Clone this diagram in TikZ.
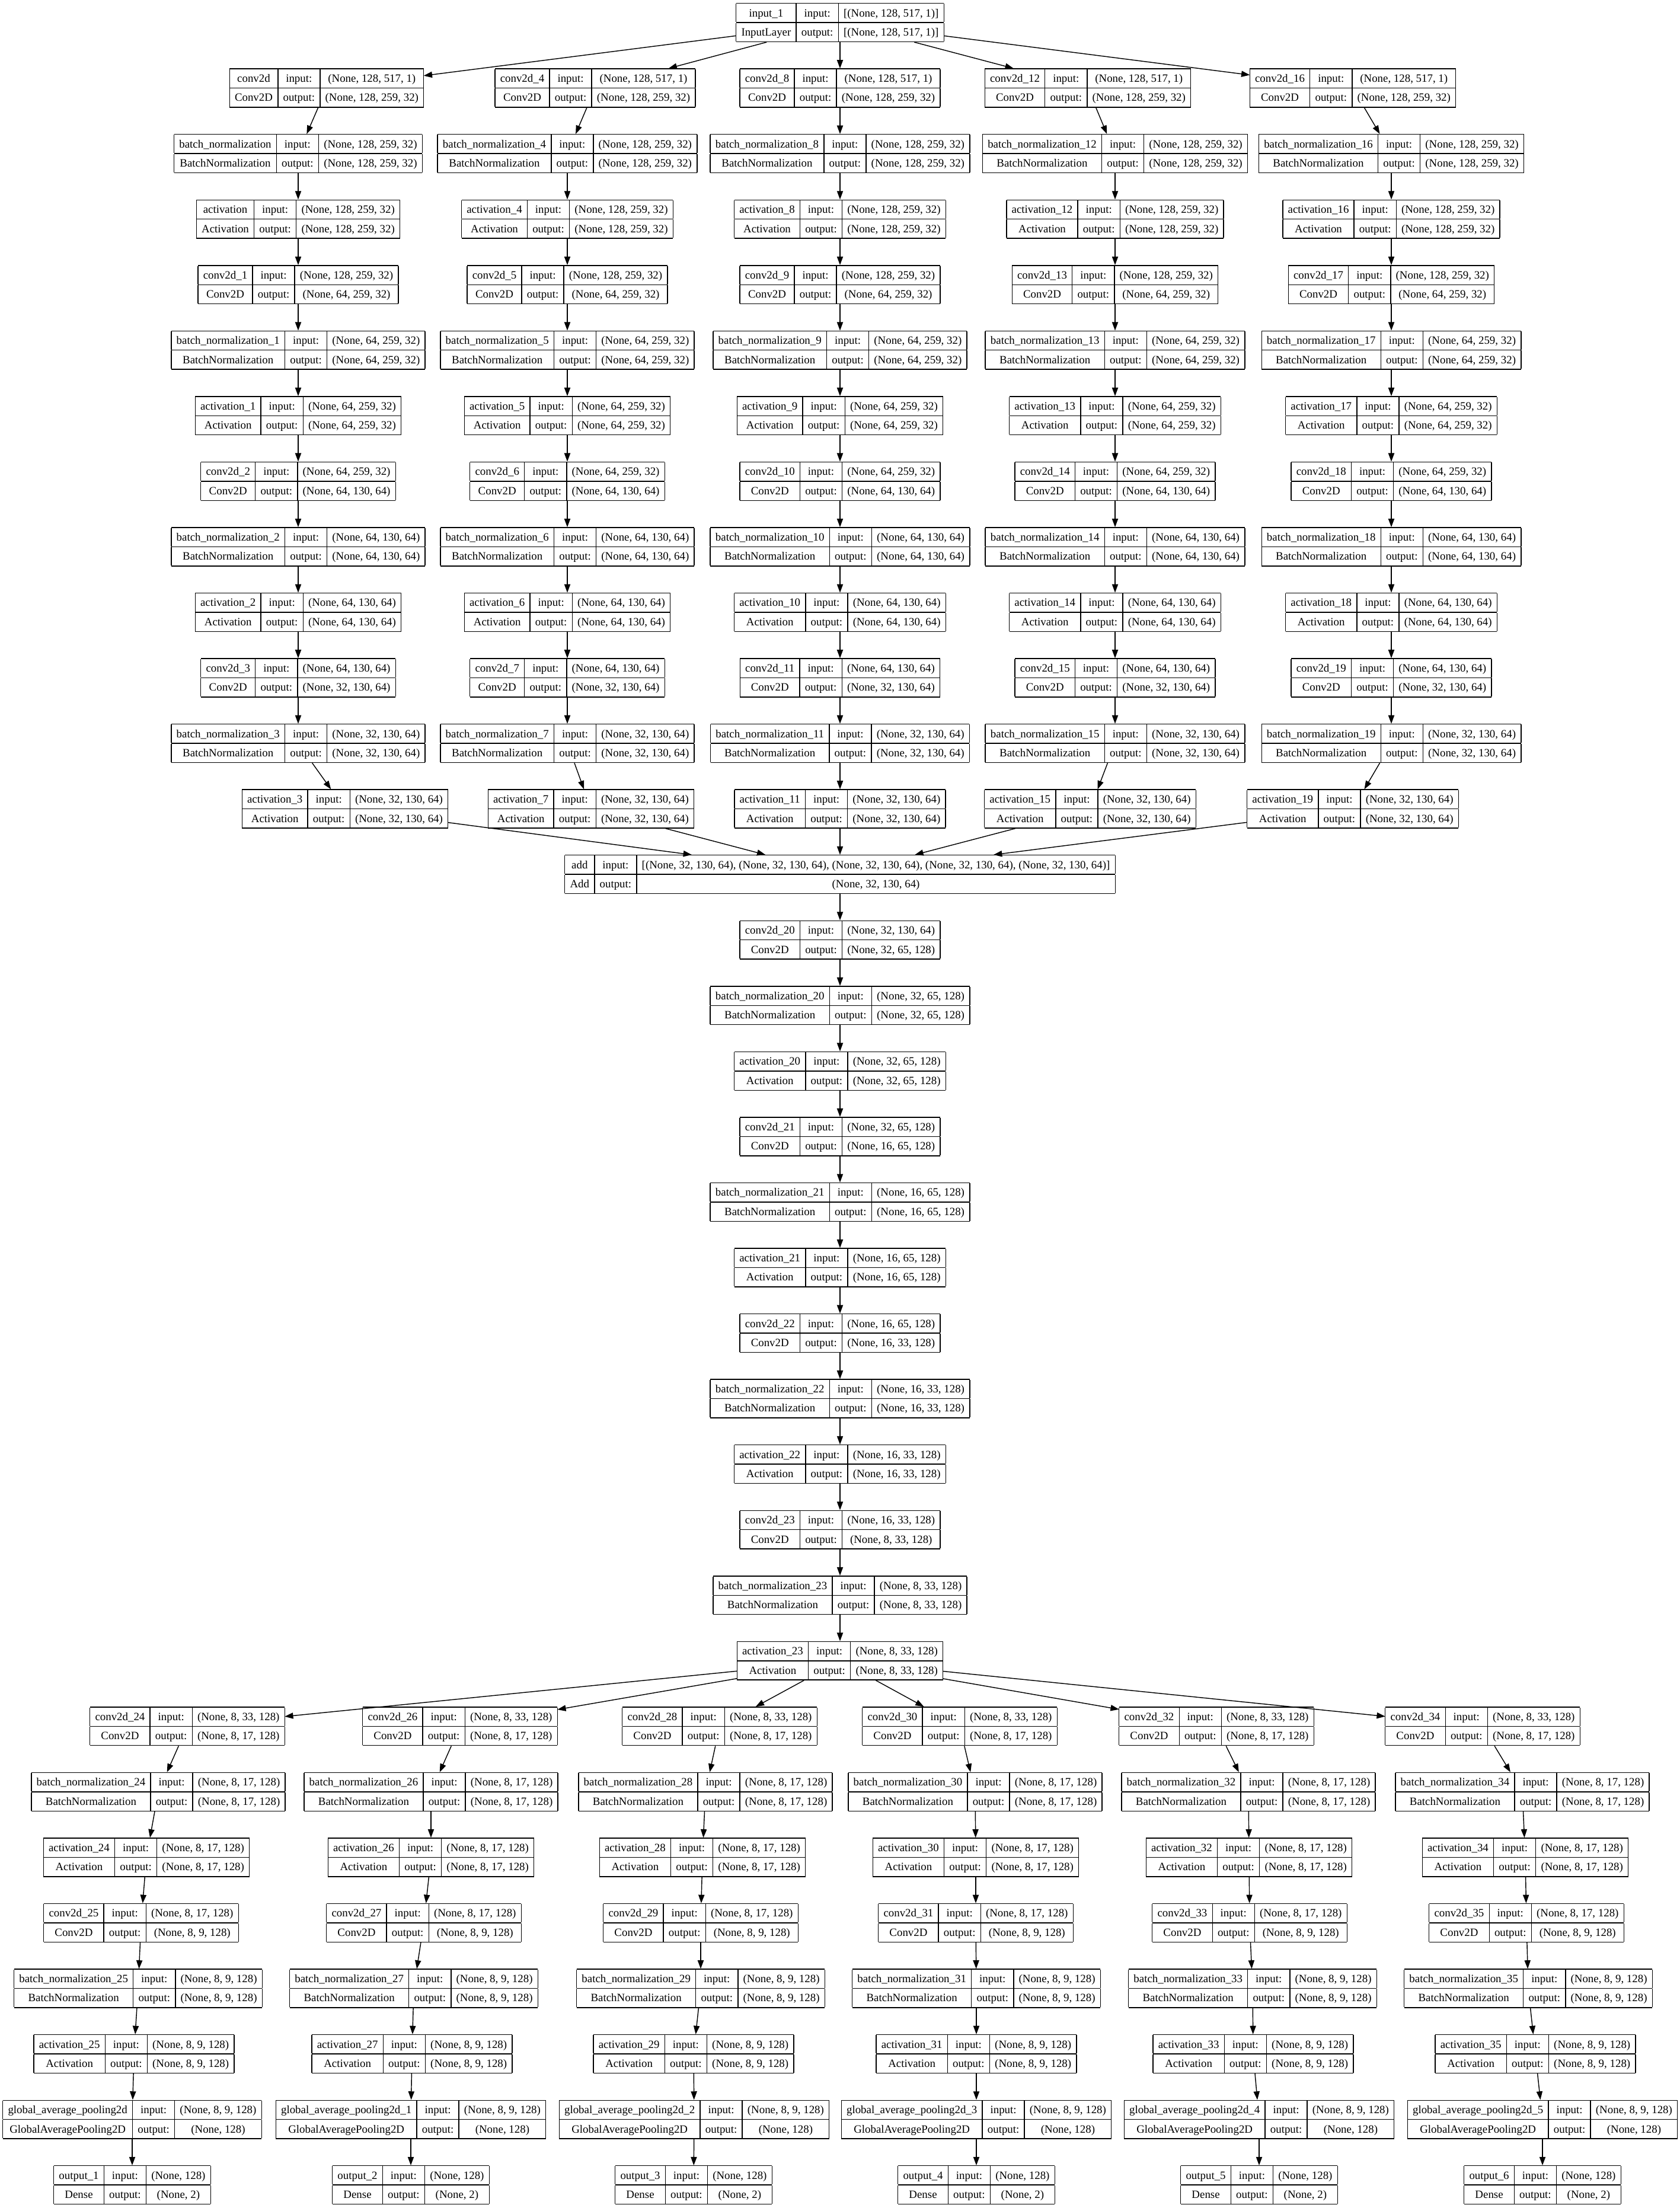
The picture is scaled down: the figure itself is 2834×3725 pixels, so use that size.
\documentclass[tikz,border=0pt]{standalone}
\usepackage{fontspec}
\setmainfont{Liberation Serif}
\usetikzlibrary{arrows.meta}
\setlength{\tabcolsep}{3.7pt}
\setlength{\arrayrulewidth}{0.6pt}
\tikzset{
  layerbox/.style={inner sep=0pt, outer sep=0pt, font=\fontsize{7.95}{13.05}\selectfont},
  flow/.style={-{Triangle[length=6pt,width=4.3pt]}, line width=0.6pt, draw=black}
}
% suffix "_n", left out for n = 0
\newcommand{\sfx}[1]{\ifnum#1>0 \_#1\fi}
% id, x, row, name, class, input shape, output shape
\newcommand{\layer}[7]{%
  \node[layerbox] (#1) at (#2,{38+110.55*#3}) {%
    \begin{tabular}{|c|c|c|}\hline
      #4 & input: & #6\\\hline
      #5 & output: & #7\\\hline
    \end{tabular}};}

\begin{document}
\begin{tikzpicture}[x=0.42105pt, y=-0.42105pt]
  \fill[white] (0,0) rectangle (2834,3725);
  \useasboundingbox (0,0) rectangle (2834,3725);

  \layer{in1}{1417}{0}{input\_1}{InputLayer}{[(None, 128, 517, 1)]}{[(None, 128, 517, 1)]}

  % five parallel stacks
  \foreach \xa/\xm/\xz [count=\k from 0] in {551/503/582, 1004/957/997, 1417/1417/1417, 1835/1881/1839, 2282/2347/2282}{
    \pgfmathtruncatemacro\na{4*\k}
    \pgfmathtruncatemacro\nb{4*\k+1}
    \pgfmathtruncatemacro\nc{4*\k+2}
    \pgfmathtruncatemacro\nd{4*\k+3}
    \layer{c\na}{\xa}{1}{conv2d\sfx{\na}}{Conv2D}{(None, 128, 517, 1)}{(None, 128, 259, 32)}
    \layer{bn\na}{\xm}{2}{batch\_normalization\sfx{\na}}{BatchNormalization}{(None, 128, 259, 32)}{(None, 128, 259, 32)}
    \layer{act\na}{\xm}{3}{activation\sfx{\na}}{Activation}{(None, 128, 259, 32)}{(None, 128, 259, 32)}
    \layer{c\nb}{\xm}{4}{conv2d\_\nb}{Conv2D}{(None, 128, 259, 32)}{(None, 64, 259, 32)}
    \layer{bn\nb}{\xm}{5}{batch\_normalization\_\nb}{BatchNormalization}{(None, 64, 259, 32)}{(None, 64, 259, 32)}
    \layer{act\nb}{\xm}{6}{activation\_\nb}{Activation}{(None, 64, 259, 32)}{(None, 64, 259, 32)}
    \layer{c\nc}{\xm}{7}{conv2d\_\nc}{Conv2D}{(None, 64, 259, 32)}{(None, 64, 130, 64)}
    \layer{bn\nc}{\xm}{8}{batch\_normalization\_\nc}{BatchNormalization}{(None, 64, 130, 64)}{(None, 64, 130, 64)}
    \layer{act\nc}{\xm}{9}{activation\_\nc}{Activation}{(None, 64, 130, 64)}{(None, 64, 130, 64)}
    \layer{c\nd}{\xm}{10}{conv2d\_\nd}{Conv2D}{(None, 64, 130, 64)}{(None, 32, 130, 64)}
    \layer{bn\nd}{\xm}{11}{batch\_normalization\_\nd}{BatchNormalization}{(None, 32, 130, 64)}{(None, 32, 130, 64)}
    \layer{act\nd}{\xz}{12}{activation\_\nd}{Activation}{(None, 32, 130, 64)}{(None, 32, 130, 64)}
    \draw[flow] (in1) -- (c\na);
    \draw[flow] (c\na) -- (bn\na);
    \draw[flow] (bn\na) -- (act\na);
    \draw[flow] (act\na) -- (c\nb);
    \draw[flow] (c\nb) -- (bn\nb);
    \draw[flow] (bn\nb) -- (act\nb);
    \draw[flow] (act\nb) -- (c\nc);
    \draw[flow] (c\nc) -- (bn\nc);
    \draw[flow] (bn\nc) -- (act\nc);
    \draw[flow] (act\nc) -- (c\nd);
    \draw[flow] (c\nd) -- (bn\nd);
    \draw[flow] (bn\nd) -- (act\nd);
  }

  % merge and shared trunk
  \layer{add}{1417}{13}{add}{Add}{[(None, 32, 130, 64), (None, 32, 130, 64), (None, 32, 130, 64), (None, 32, 130, 64), (None, 32, 130, 64)]}{(None, 32, 130, 64)}
  \foreach \n in {3,7,11,15,19}
    \draw[flow] (act\n) -- (add);

  \layer{c20}{1417}{14}{conv2d\_20}{Conv2D}{(None, 32, 130, 64)}{(None, 32, 65, 128)}
  \layer{bn20}{1417}{15}{batch\_normalization\_20}{BatchNormalization}{(None, 32, 65, 128)}{(None, 32, 65, 128)}
  \layer{act20}{1417}{16}{activation\_20}{Activation}{(None, 32, 65, 128)}{(None, 32, 65, 128)}
  \layer{c21}{1417}{17}{conv2d\_21}{Conv2D}{(None, 32, 65, 128)}{(None, 16, 65, 128)}
  \layer{bn21}{1417}{18}{batch\_normalization\_21}{BatchNormalization}{(None, 16, 65, 128)}{(None, 16, 65, 128)}
  \layer{act21}{1417}{19}{activation\_21}{Activation}{(None, 16, 65, 128)}{(None, 16, 65, 128)}
  \layer{c22}{1417}{20}{conv2d\_22}{Conv2D}{(None, 16, 65, 128)}{(None, 16, 33, 128)}
  \layer{bn22}{1417}{21}{batch\_normalization\_22}{BatchNormalization}{(None, 16, 33, 128)}{(None, 16, 33, 128)}
  \layer{act22}{1417}{22}{activation\_22}{Activation}{(None, 16, 33, 128)}{(None, 16, 33, 128)}
  \layer{c23}{1417}{23}{conv2d\_23}{Conv2D}{(None, 16, 33, 128)}{(None, 8, 33, 128)}
  \layer{bn23}{1417}{24}{batch\_normalization\_23}{BatchNormalization}{(None, 8, 33, 128)}{(None, 8, 33, 128)}
  \layer{act23}{1417}{25}{activation\_23}{Activation}{(None, 8, 33, 128)}{(None, 8, 33, 128)}
  \draw[flow] (add) -- (c20);
  \draw[flow] (c20) -- (bn20);
  \draw[flow] (bn20) -- (act20);
  \draw[flow] (act20) -- (c21);
  \draw[flow] (c21) -- (bn21);
  \draw[flow] (bn21) -- (act21);
  \draw[flow] (act21) -- (c22);
  \draw[flow] (c22) -- (bn22);
  \draw[flow] (bn22) -- (act22);
  \draw[flow] (act22) -- (c23);
  \draw[flow] (c23) -- (bn23);
  \draw[flow] (bn23) -- (act23);

  % six output heads
  \foreach \xa/\xb/\xc/\xd/\xe/\xf/\xg/\xh [count=\k from 0] in {316/267/247/238/233/226/223/223, 776/727/727/715/698/695/693/693, 1214/1190/1185/1182/1182/1170/1171/1170, 1619/1645/1646/1646/1647/1647/1647/1647, 2052/2106/2107/2108/2113/2114/2124/2124, 2501/2568/2573/2575/2578/2590/2602/2602}{
    \pgfmathtruncatemacro\na{24+2*\k}
    \pgfmathtruncatemacro\nb{25+2*\k}
    \pgfmathtruncatemacro\no{\k+1}
    \layer{c\na}{\xa}{26}{conv2d\_\na}{Conv2D}{(None, 8, 33, 128)}{(None, 8, 17, 128)}
    \layer{bn\na}{\xb}{27}{batch\_normalization\_\na}{BatchNormalization}{(None, 8, 17, 128)}{(None, 8, 17, 128)}
    \layer{act\na}{\xc}{28}{activation\_\na}{Activation}{(None, 8, 17, 128)}{(None, 8, 17, 128)}
    \layer{c\nb}{\xd}{29}{conv2d\_\nb}{Conv2D}{(None, 8, 17, 128)}{(None, 8, 9, 128)}
    \layer{bn\nb}{\xe}{30}{batch\_normalization\_\nb}{BatchNormalization}{(None, 8, 9, 128)}{(None, 8, 9, 128)}
    \layer{act\nb}{\xf}{31}{activation\_\nb}{Activation}{(None, 8, 9, 128)}{(None, 8, 9, 128)}
    \layer{gap\k}{\xg}{32}{global\_average\_pooling2d\sfx{\k}}{GlobalAveragePooling2D}{(None, 8, 9, 128)}{(None, 128)}
    \layer{out\no}{\xh}{33}{output\_\no}{Dense}{(None, 128)}{(None, 2)}
    \draw[flow] (act23) -- (c\na);
    \draw[flow] (c\na) -- (bn\na);
    \draw[flow] (bn\na) -- (act\na);
    \draw[flow] (act\na) -- (c\nb);
    \draw[flow] (c\nb) -- (bn\nb);
    \draw[flow] (bn\nb) -- (act\nb);
    \draw[flow] (act\nb) -- (gap\k);
    \draw[flow] (gap\k) -- (out\no);
  }
\end{tikzpicture}
\end{document}
